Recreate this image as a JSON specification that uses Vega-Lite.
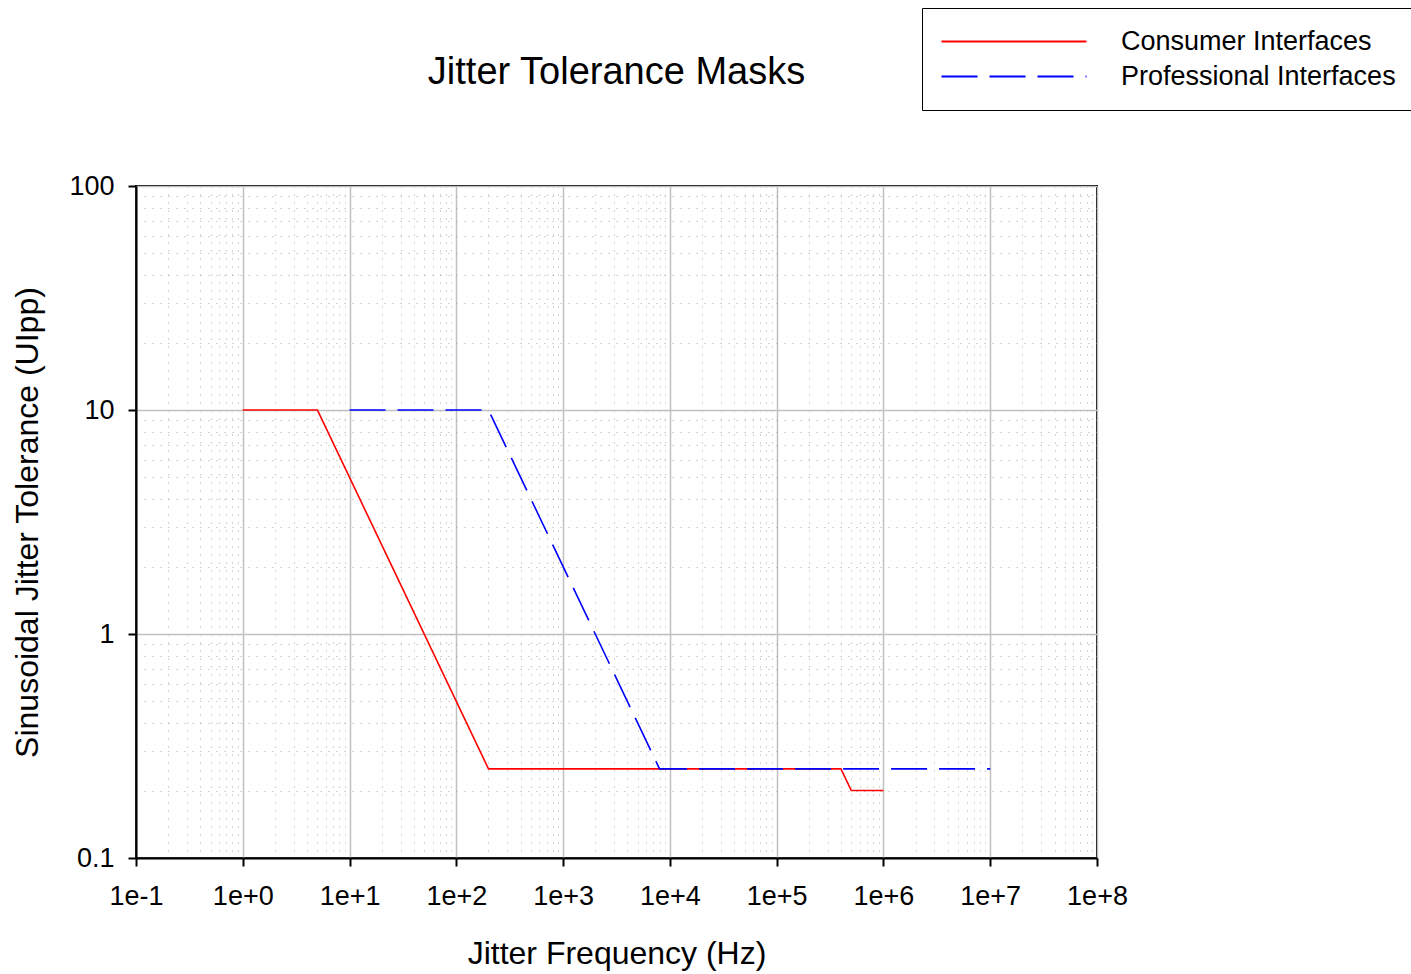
{
  "$schema": "https://vega.github.io/schema/vega-lite/v6.json",
  "autosize": "none",
  "width": 961,
  "height": 672,
  "padding": {"left": 136, "top": 186, "right": 314, "bottom": 116},
  "background": "white",
  "config": {
    "font": "Liberation Sans",
    "view": {"stroke": "black", "strokeWidth": 2},
    "legend": {
      "orient": "none",
      "legendX": 786,
      "legendY": -178,
      "labelFont": "Liberation Sans",
      "labelFontSize": 27,
      "labelColor": "black",
      "labelOffset": 152,
      "symbolType": "M-1.4,0H13.1",
      "symbolSize": 400,
      "symbolStrokeWidth": 2,
      "strokeColor": "black",
      "fillColor": "white",
      "padding": 20,
      "rowPadding": 7,
      "labelLimit": 400
    }
  },
  "title": {
    "text": "Jitter Tolerance Masks",
    "fontSize": 38,
    "fontWeight": "normal",
    "font": "Liberation Sans",
    "color": "black",
    "anchor": "middle",
    "frame": "group",
    "baseline": "alphabetic",
    "offset": -114
  },
  "data": {
    "values": [
      {"series": "Consumer Interfaces", "freq": 1, "ui": 10},
      {"series": "Consumer Interfaces", "freq": 5, "ui": 10},
      {"series": "Consumer Interfaces", "freq": 200, "ui": 0.25},
      {"series": "Consumer Interfaces", "freq": 400000, "ui": 0.25},
      {"series": "Consumer Interfaces", "freq": 500000, "ui": 0.2},
      {"series": "Consumer Interfaces", "freq": 1000000, "ui": 0.2},
      {"series": "Professional Interfaces", "freq": 10, "ui": 10},
      {"series": "Professional Interfaces", "freq": 200, "ui": 10},
      {"series": "Professional Interfaces", "freq": 8000, "ui": 0.25},
      {"series": "Professional Interfaces", "freq": 10000000, "ui": 0.25}
    ]
  },
  "mark": {"type": "line", "strokeWidth": 1.6, "clip": true},
  "encoding": {
    "x": {
      "field": "freq",
      "type": "quantitative",
      "scale": {"type": "log", "domain": [0.1, 100000000], "nice": false},
      "axis": {
        "values": [0.1,0.2,0.3,0.4,0.5,0.6,0.7,0.8,0.9,1,2,3,4,5,6,7,8,9,10,20,30,40,50,60,70,80,90,100,200,300,400,500,600,700,800,900,1000,2000,3000,4000,5000,6000,7000,8000,9000,10000,20000,30000,40000,50000,60000,70000,80000,90000,100000,200000,300000,400000,500000,600000,700000,800000,900000,1000000,2000000,3000000,4000000,5000000,6000000,7000000,8000000,9000000,10000000,20000000,30000000,40000000,50000000,60000000,70000000,80000000,90000000,100000000],
        "labelExpr": "abs(log(datum.value)/LN10 - round(log(datum.value)/LN10)) < 0.001 ? ('1e' + (round(log(datum.value)/LN10) >= 0 ? '+' : '') + round(log(datum.value)/LN10)) : ''",
        "labelOverlap": false,
        "labelFlush": false,
        "labelFontSize": 27,
        "labelColor": "black",
        "labelPadding": 17,
        "grid": true,
        "gridColor": {"condition": {"test": "abs(log(datum.value)/LN10 - round(log(datum.value)/LN10)) < 0.001", "value": "#c0c0c0"}, "value": "#a8a8a8"},
        "gridDash": {"condition": {"test": "abs(log(datum.value)/LN10 - round(log(datum.value)/LN10)) < 0.001", "value": []}, "value": [1, 7]},
        "gridWidth": {"condition": {"test": "abs(log(datum.value)/LN10 - round(log(datum.value)/LN10)) < 0.001", "value": 1.5}, "value": 1},
        "ticks": true,
        "tickColor": "black",
        "tickWidth": 2,
        "tickSize": 8,
        "tickOpacity": {"condition": {"test": "abs(log(datum.value)/LN10 - round(log(datum.value)/LN10)) < 0.001", "value": 1}, "value": 0},
        "domainColor": "black",
        "domainWidth": 2,
        "title": "Jitter Frequency (Hz)",
        "titleFontSize": 32,
        "titleFontWeight": "normal",
        "titleColor": "black",
        "titlePadding": 29
      }
    },
    "y": {
      "field": "ui",
      "type": "quantitative",
      "scale": {"type": "log", "domain": [0.1, 100], "nice": false},
      "axis": {
        "values": [0.1,0.2,0.3,0.4,0.5,0.6,0.7,0.8,0.9,1,2,3,4,5,6,7,8,9,10,20,30,40,50,60,70,80,90,100],
        "labelExpr": "abs(log(datum.value)/LN10 - round(log(datum.value)/LN10)) < 0.001 ? toString(datum.value) : ''",
        "labelOverlap": false,
        "labelFlush": false,
        "labelFontSize": 27,
        "labelColor": "black",
        "labelPadding": 14,
        "grid": true,
        "gridColor": {"condition": {"test": "abs(log(datum.value)/LN10 - round(log(datum.value)/LN10)) < 0.001", "value": "#c0c0c0"}, "value": "#a8a8a8"},
        "gridDash": {"condition": {"test": "abs(log(datum.value)/LN10 - round(log(datum.value)/LN10)) < 0.001", "value": []}, "value": [1, 7]},
        "gridWidth": {"condition": {"test": "abs(log(datum.value)/LN10 - round(log(datum.value)/LN10)) < 0.001", "value": 1.5}, "value": 1},
        "ticks": true,
        "tickColor": "black",
        "tickWidth": 2,
        "tickSize": 8,
        "tickOpacity": {"condition": {"test": "abs(log(datum.value)/LN10 - round(log(datum.value)/LN10)) < 0.001", "value": 1}, "value": 0},
        "domainColor": "black",
        "domainWidth": 2,
        "title": "Sinusoidal Jitter Tolerance (UIpp)",
        "titleFontSize": 32,
        "titleFontWeight": "normal",
        "titleColor": "black",
        "titlePadding": 24
      }
    },
    "color": {
      "field": "series",
      "type": "nominal",
      "scale": {"domain": ["Consumer Interfaces", "Professional Interfaces"], "range": ["#ff0000", "#0000ff"]},
      "legend": {"title": null}
    },
    "strokeDash": {
      "field": "series",
      "type": "nominal",
      "scale": {"domain": ["Consumer Interfaces", "Professional Interfaces"], "range": [[1, 0], [36, 12]]},
      "legend": {"title": null}
    }
  }
}
